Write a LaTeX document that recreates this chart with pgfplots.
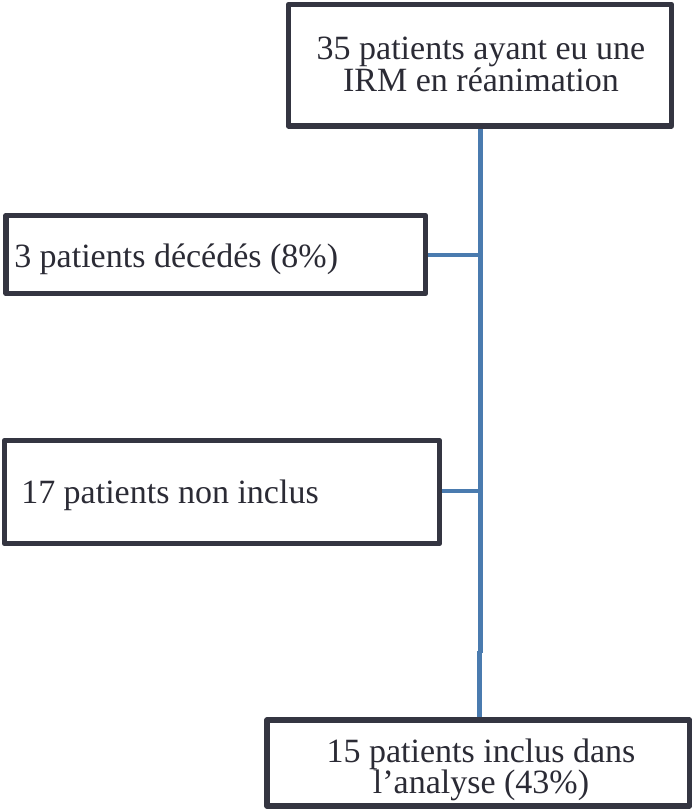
\documentclass[border=0pt]{standalone}
\usepackage{fontspec}
\setmainfont{Liberation Serif}
\usepackage{pgfplots}
\pgfplotsset{compat=1.18}
\definecolor{boxline}{HTML}{343541}
\definecolor{txt}{HTML}{2B2B35}
\definecolor{flow}{HTML}{4A7BAF}

\begin{document}
\begin{tikzpicture}
\begin{axis}[
    scale only axis,
    width=519.75pt, height=606.75pt,
    xmin=0, xmax=693, ymin=0, ymax=809,
    y dir=reverse,
    hide axis,
    clip=false,
]
% connectors
\addplot[flow, line width=3.7pt] coordinates {(480.3,126) (480.3,653)};
\addplot[flow, line width=3.7pt] coordinates {(479.6,651) (479.6,719)};
\addplot[flow, line width=3pt] coordinates {(425,255) (481,255)};
\addplot[flow, line width=3pt] coordinates {(439,491) (481,491)};

% boxes
\addplot[boxline, line width=4.2pt, line join=round, fill=white] coordinates {(288.5,4.5) (671.5,4.5) (671.5,126) (288.5,126)} -- cycle;
\addplot[boxline, line width=4.2pt, line join=round, fill=white] coordinates {(6,215.5) (425.5,215.5) (425.5,293.5) (6,293.5)} -- cycle;
\addplot[boxline, line width=4.2pt, line join=round, fill=white] coordinates {(4.5,440.5) (439.5,440.5) (439.5,543.5) (4.5,543.5)} -- cycle;
\addplot[boxline, line width=4.2pt, line join=round, fill=white] coordinates {(267,720) (689.5,720) (689.5,806) (267,806)} -- cycle;

% labels
\begin{scope}[every node/.style={text=txt, inner sep=0pt, font=\fontsize{25.5}{24}\selectfont}]
\node[anchor=base] at (axis cs:481,60) {35 patients ayant eu une};
\node[anchor=base] at (axis cs:481,91.5) {IRM en réanimation};
\node[anchor=base west] at (axis cs:14,267) {3 patients décédés (8\%)};
\node[anchor=base west] at (axis cs:21,503) {17 patients non inclus};
\node[anchor=base] at (axis cs:481,762) {15 patients inclus dans};
\node[anchor=base] at (axis cs:481,793) {l’analyse (43\%)};
\end{scope}

\coordinate (ll) at (axis cs:0,809);
\coordinate (ur) at (axis cs:693,0);
\end{axis}
\pgfresetboundingbox
\path (ll) rectangle (ur);
\end{tikzpicture}
\end{document}
